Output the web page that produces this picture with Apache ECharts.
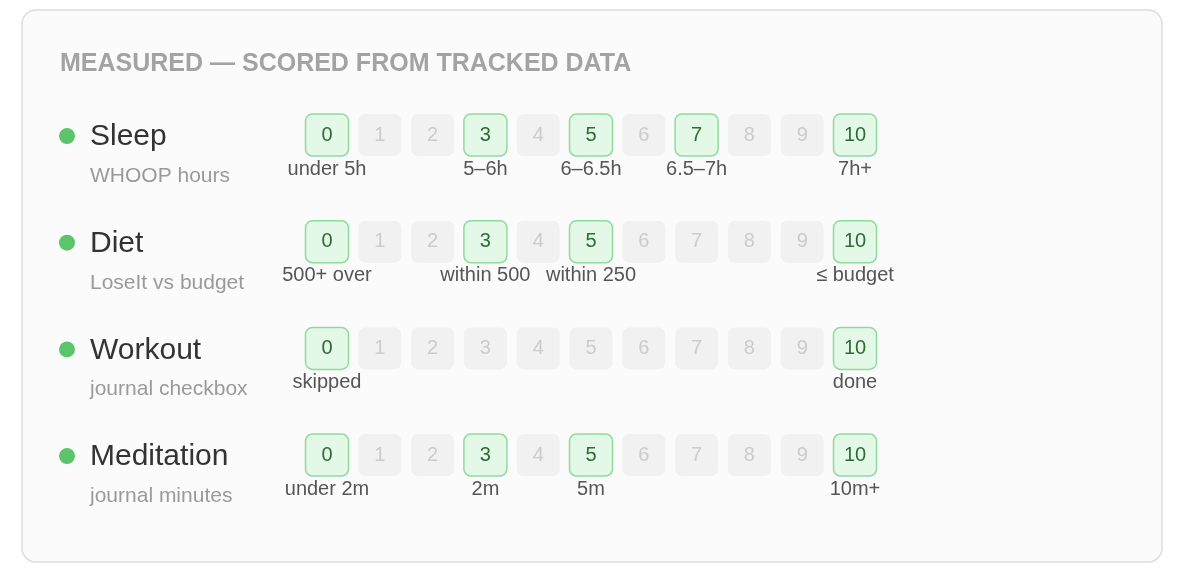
<!DOCTYPE html>
<html><head><meta charset="utf-8">
<script src="https://cdn.jsdelivr.net/npm/echarts@6/dist/echarts.min.js"></script>
<style>html,body{margin:0;padding:0;background:#fff}#c{width:1184px;height:582px}</style>
</head><body><div id="c"></div>
<script>
const rows = ['Sleep','Diet','Workout','Meditation'];
const subtitles = ['WHOOP hours','LoseIt vs budget','journal checkbox','journal minutes'];
const scores = [0,1,2,3,4,5,6,7,8,9,10];
const highlighted = [[0,3,5,7,10],[0,3,5,10],[0,10],[0,3,5,10]];
const captions = [
  [[0,'under 5h'],[3,'5–6h'],[5,'6–6.5h'],[7,'6.5–7h'],[10,'7h+']],
  [[0,'500+ over'],[3,'within 500'],[5,'within 250'],[10,'≤ budget']],
  [[0,'skipped'],[10,'done']],
  [[0,'under 2m'],[3,'2m'],[5,'5m'],[10,'10m+']]
];
const FONT = 'Helvetica, Arial, "Liberation Sans", sans-serif';
const cellData = [];
rows.forEach((r,ri)=>scores.forEach(s=>cellData.push([s,ri,highlighted[ri].includes(s)?1:0])));
const capData = [];
captions.forEach((c,ri)=>c.forEach(([s,t])=>capData.push([s,ri,t])));
const labelData = rows.map((r,ri)=>[0,ri,r,subtitles[ri]]);
const chart = echarts.init(document.getElementById('c'));
chart.setOption({
  animation:false,
  grid:{left:300.6,width:580.8,top:81.7,height:426.7},
  xAxis:{type:'value',min:-0.5,max:10.5,show:false},
  yAxis:{type:'value',min:-0.5,max:3.5,inverse:true,show:false},
  graphic:[
    {type:'rect',shape:{x:22,y:10,width:1140,height:552,r:14},style:{fill:'#fbfbfb',stroke:'#dddddd',lineWidth:1.5},z:-10},
    {type:'text',left:60,top:52,style:{text:'MEASURED — SCORED FROM TRACKED DATA',fill:'#a3a3a3',font:'bold 25px '+FONT}}
  ],
  series:[
    {type:'custom',data:cellData,renderItem:(p,api)=>{
      const c=api.coord([api.value(0),api.value(1)]);const on=api.value(2)===1;
      return {type:'group',children:[
        {type:'rect',shape:{x:c[0]-21.5,y:c[1]-21,width:43,height:42,r:7},style:{fill:on?'#e3f8e6':'#f1f1f1',stroke:on?'#8edc9c':null,lineWidth:on?1.5:0}},
        {type:'text',style:{text:String(api.value(0)),x:c[0],y:c[1],align:'center',verticalAlign:'middle',fill:on?'#2f6b38':'#cccccc',font:'20px '+FONT}}
      ]};
    }},
    {type:'custom',data:capData,encode:{x:0,y:1},renderItem:(p,api)=>{
      const c=api.coord([api.value(0),api.value(1)]);
      return {type:'text',style:{text:capData[p.dataIndex][2],x:c[0],y:c[1]+34,align:'center',verticalAlign:'middle',fill:'#555555',font:'20px '+FONT}};
    }},
    {type:'custom',data:labelData,encode:{x:0,y:1},renderItem:(p,api)=>{
      const c=api.coord([0,api.value(1)]);const d=labelData[p.dataIndex];
      return {type:'group',children:[
        {type:'circle',shape:{cx:67,cy:c[1]+1,r:8},style:{fill:'#5cc46a'}},
        {type:'text',style:{text:d[2],x:90,y:c[1]+2,verticalAlign:'middle',fill:'#333333',font:'30px '+FONT}},
        {type:'text',style:{text:d[3],x:90,y:c[1]+41,verticalAlign:'middle',fill:'#9a9a9a',font:'21px '+FONT}}
      ]};
    }}
  ]
});
</script></body></html>
